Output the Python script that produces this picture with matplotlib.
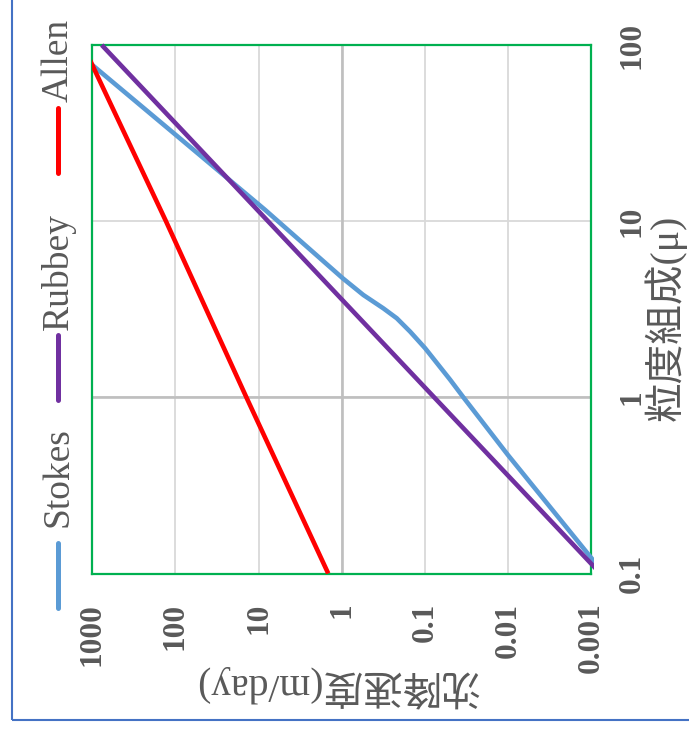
import matplotlib
matplotlib.use('Agg')
import matplotlib.pyplot as plt
from matplotlib.patches import Rectangle
from matplotlib.lines import Line2D
from matplotlib.ticker import NullLocator

# ---------------- data (particle size d [μ] vs settling velocity v [m/day]) ----------------
series_names = ['Stokes', 'Rubbey', 'Allen']
stokes_d = [0.1, 0.471, 1.0, 1.26, 1.9, 2.36, 2.81, 3.2, 3.81, 4.75, 11.6, 30.8, 77, 100]
stokes_v = [0.0007, 0.01, 0.0343, 0.0496, 0.099, 0.150, 0.217, 0.315, 0.548, 0.975, 8.35, 98.4, 1000, 1900]
rubbey_d = [0.1, 1, 10, 100]
rubbey_v = [0.00077, 0.077, 7.7, 770]
allen_d = [0.1, 1, 10, 100]
allen_v = [1.45, 14, 130, 1300]

v_ticks = [1000, 100, 10, 1, 0.1, 0.01, 0.001]
v_labels = ['1000', '100', '10', '1', '0.1', '0.01', '0.001']
d_ticks = [0.1, 1, 10, 100]
d_labels = ['0.1', '1', '10', '100']
x_title = '沈降速度(m/day)'
y_title = '粒度組成(μ)'
colors = ['#5B9BD5', '#7030A0', '#FF0000']

# ---------------- layout ----------------
W, H = 689, 735
fig = plt.figure(figsize=(W / 100, H / 100), dpi=100)

def fx(px):
    return px / W

def fy(py):
    return 1 - py / H

L, R, T, B = 92.3, 591, 45, 573.5
ax = fig.add_axes([fx(L), fy(B), (R - L) / W, (B - T) / H])
ax.set_xscale('log')
ax.set_yscale('log')
ax.set_xlim(1000, 0.001)
ax.set_ylim(0.1, 100)
ax.set_xticks(v_ticks)
ax.set_xticklabels(v_labels)
ax.set_yticks(d_ticks)
ax.set_yticklabels(d_labels)
ax.xaxis.set_minor_locator(NullLocator())
ax.yaxis.set_minor_locator(NullLocator())
ax.yaxis.tick_right()

tick_color = '#595959'
ax.tick_params(axis='x', length=0, pad=21, labelrotation=90, labelsize=22.5, labelcolor=tick_color)
ax.tick_params(axis='y', length=0, pad=19, labelrotation=90, labelsize=22.5, labelcolor=tick_color)
for lbl in ax.get_xticklabels():
    lbl.set_fontfamily('Liberation Serif')
    lbl.set_fontweight('bold')
    lbl.set_va('top')
    lbl.set_ha('center')
for lbl in ax.get_yticklabels():
    lbl.set_fontfamily('Liberation Serif')
    lbl.set_fontweight('bold')
    lbl.set_ha('left')
    lbl.set_va('center')

ax.grid(True, which='major', color='#D9D9D9', lw=1.3)
ax.set_axisbelow(True)
ax.axvline(1, color='#BFBFBF', lw=1.9, zorder=1.5)
ax.axhline(1, color='#BFBFBF', lw=1.9, zorder=1.5)

for s in ax.spines.values():
    s.set_color('#00B050')
    s.set_linewidth(1.6)
    s.set_zorder(2.5)

# slightly enlarged clip region on the top and right sides
clip = Rectangle((0, 0), 1.006, 1.006, transform=ax.transAxes)
for d, v, c in [(stokes_d, stokes_v, colors[0]), (rubbey_d, rubbey_v, colors[1]), (allen_d, allen_v, colors[2])]:
    ln, = ax.plot(v, d, color=c, lw=3.3, solid_capstyle='butt', solid_joinstyle='round', zorder=3)
    ln.set_clip_path(clip)

# ---------------- legend (rotated, drawn by hand) ----------------
legend_pos = {  # marker top, marker bottom, text bottom (pixels)
    'Allen': (108, 173, 102),
    'Rubbey': (335, 400, 330),
    'Stokes': (543, 608, 527),
}
for name, c in zip(series_names, colors):
    mt, mb, tb = legend_pos[name]
    fig.add_artist(Line2D([fx(57.7), fx(57.7)], [fy(mt), fy(mb)], color=c, lw=3.6,
                          solid_capstyle='round'))
    fig.text(fx(58), fy(tb), name, rotation=90, ha='center', va='bottom',
             family='Liberation Serif', size=27, color=tick_color)

# ---------------- axis titles ----------------
fam = ['Liberation Serif', 'Noto Sans CJK JP']
fig.text(fx(336), fy(686), x_title, rotation=180, ha='center', va='center',
         family=fam, size=28.5, color=tick_color)
fig.text(fx(665), fy(318), y_title, rotation=90, ha='center', va='center',
         family=fam, size=28.5, color=tick_color)

# ---------------- outer frame ----------------
fig.add_artist(Rectangle((fx(11.5), fy(720)), 1.2, 1.2, transform=fig.transFigure,
                         fill=False, edgecolor='#4472C4', lw=1.5, clip_on=False))

fig.savefig('out.png', dpi=100)
